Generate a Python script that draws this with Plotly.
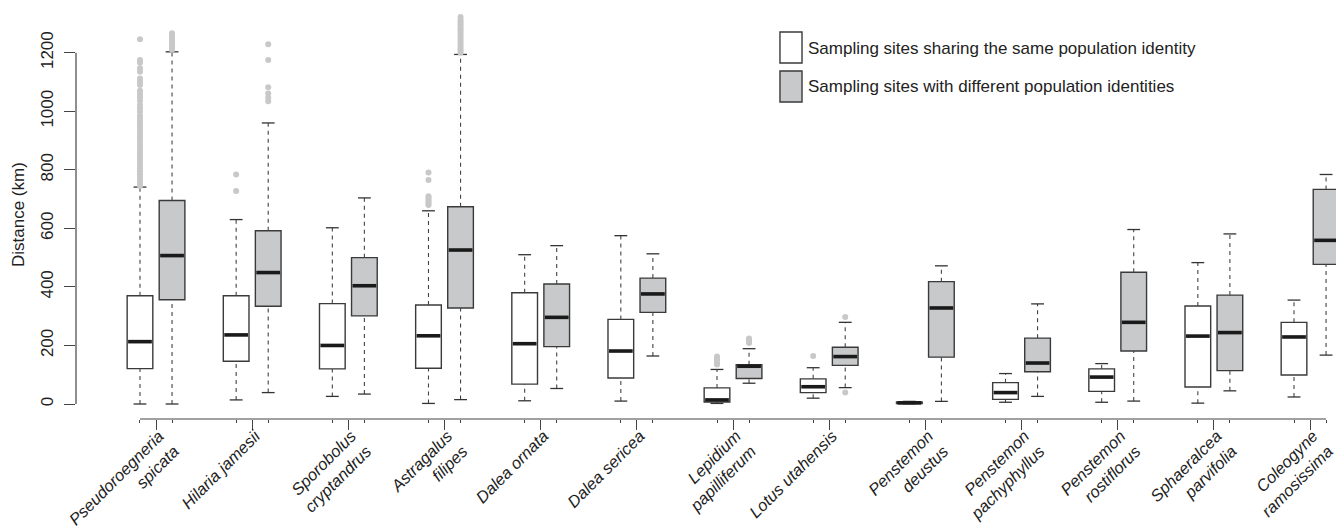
import plotly.graph_objects as go

species = ["Pseudoroegneria<br>spicata", "Hilaria jamesii", "Sporobolus<br>cryptandrus",
           "Astragalus<br>filipes", "Dalea ornata", "Dalea sericea", "Lepidium<br>papilliferum",
           "Lotus utahensis", "Penstemon<br>deustus", "Penstemon<br>pachyphyllus",
           "Penstemon<br>rostiflorus", "Sphaeralcea<br>parvifolia", "Coleogyne<br>ramosissima"]

# same population identity (white)
same_low = [0, 14, 26, 2, 11, 10, 2, 20, 1, 6, 6, 3, 24]
same_q1 = [121, 146, 120, 122, 68, 89, 7, 39, 2, 16, 43, 58, 99]
same_med = [213, 236, 200, 233, 206, 181, 14, 59, 4, 39, 92, 232, 229]
same_q3 = [370, 370, 343, 338, 380, 289, 55, 86, 7, 73, 120, 335, 279]
same_up = [741, 630, 602, 660, 510, 575, 118, 124, 9, 104, 138, 483, 355]

# different population identities (grey)
diff_low = [0, 39, 34, 15, 53, 164, 71, 56, 9, 26, 10, 45, 167]
diff_q1 = [356, 334, 301, 328, 196, 313, 87, 132, 160, 110, 181, 114, 477]
diff_med = [507, 449, 404, 526, 296, 376, 129, 162, 328, 140, 279, 244, 559]
diff_q3 = [695, 592, 500, 674, 410, 430, 134, 194, 418, 225, 450, 372, 733]
diff_up = [1203, 960, 704, 1194, 541, 513, 189, 279, 472, 342, 596, 581, 784]

# outliers (group index, value)
same_out = {
    0: [745, 755, 765, 775, 785, 795, 805, 815, 825, 835, 845, 855, 865, 875, 885, 895,
        905, 915, 925, 935, 945, 955, 965, 975, 985, 998, 1010, 1021, 1036, 1048, 1059,
        1070, 1090, 1101, 1112, 1135, 1147, 1166, 1175, 1246],
    1: [728, 784],
    3: [680, 686, 692, 698, 704, 710, 765, 791],
    6: [135, 142, 150, 156, 162],
    7: [164],
}
diff_out = {
    0: [1210, 1218, 1226, 1234, 1242, 1250, 1258, 1266],
    1: [1034, 1046, 1061, 1082, 1175, 1229],
    3: [1200, 1208, 1216, 1224, 1232, 1240, 1248, 1256, 1264, 1272, 1280, 1288, 1296,
        1304, 1312, 1322],
    6: [208, 214, 220, 224],
    7: [39, 297],
}

OFF = 1 / 6
BW = 0.267
CAP = BW / 2
LINE = "#3a3a3a"
FILLS = ["#ffffff", "#c8c9cb"]
FONT = "Liberation Sans, Arial, sans-serif"

fig = go.Figure()

def add_series(low, q1, med, q3, up, outs, offset, fill):
    xs = [i + offset for i in range(len(q1))]
    # whiskers (dashed)
    wx, wy = [], []
    for x, a, b, c, d in zip(xs, low, q1, q3, up):
        wx += [x, x, None, x, x, None]
        wy += [a, b, None, c, d, None]
    fig.add_trace(go.Scatter(x=wx, y=wy, mode="lines", hoverinfo="skip",
                             line=dict(color="#444444", width=1.1, dash="4px,4px"),
                             showlegend=False))
    # staples
    sx, sy = [], []
    for x, a, d in zip(xs, low, up):
        sx += [x - CAP / 2, x + CAP / 2, None, x - CAP / 2, x + CAP / 2, None]
        sy += [a, a, None, d, d, None]
    fig.add_trace(go.Scatter(x=sx, y=sy, mode="lines", hoverinfo="skip",
                             line=dict(color="#333333", width=1.3), showlegend=False))
    # boxes
    fig.add_trace(go.Bar(x=xs, y=[c - b for b, c in zip(q1, q3)], base=q1, width=BW,
                         marker=dict(color=fill, line=dict(color=LINE, width=1.4)),
                         showlegend=False))
    # medians
    mx, my = [], []
    for x, m in zip(xs, med):
        mx += [x - BW / 2 + 0.01, x + BW / 2 - 0.01, None]
        my += [m, m, None]
    fig.add_trace(go.Scatter(x=mx, y=my, mode="lines", hoverinfo="skip",
                             line=dict(color="#1a1a1a", width=3.6), showlegend=False))
    # outliers
    ox, oy = [], []
    for g, vals in outs.items():
        ox += [g + offset] * len(vals)
        oy += vals
    fig.add_trace(go.Scatter(x=ox, y=oy, mode="markers", hoverinfo="skip",
                             marker=dict(color="#c8c8c8", size=6, line=dict(width=0)),
                             showlegend=False))

add_series(same_low, same_q1, same_med, same_q3, same_up, same_out, -OFF, FILLS[0])
add_series(diff_low, diff_q1, diff_med, diff_q3, diff_up, diff_out, OFF, FILLS[1])

groups = list(range(len(species)))
minor_pos = sorted([g - OFF for g in groups] + [g + OFF for g in groups])

H_PLOT = 419.0
def py(p):
    return 1 - p / H_PLOT

fig.update_layout(
    width=1336, height=528,
    margin=dict(l=76, r=0, t=0, b=528 - 419),
    paper_bgcolor="white", plot_bgcolor="white",
    barmode="overlay",
    font=dict(family=FONT, size=17, color="#222222"),
    xaxis=dict(range=[-0.832, 12.27], tickmode="array", tickvals=groups,
               ticktext=["<i>%s</i>" % s for s in species], tickangle=-45,
               ticks="outside", ticklen=10, tickcolor="#444444", tickwidth=1.2,
               ticklabelstandoff=-10, ticklabelshift=3, ticklabeloverflow="allow",
               showgrid=False, zeroline=False, showline=False, automargin=False,
               tickfont=dict(family=FONT, size=16.5, color="#222222"),
               minor=dict(tickmode="array", tickvals=minor_pos, ticks="outside",
                          ticklen=3, tickcolor="#444444", tickwidth=1.2, showgrid=False)),
    yaxis=dict(range=[-51.2, 1380], tickmode="array", tickvals=[0, 200, 400, 600, 800, 1000, 1200],
               ticks="outside", ticklen=11, tickcolor="#444444", tickwidth=1.2,
               ticklabelstandoff=4,
               tickangle=-90, showgrid=False, zeroline=False, showline=False, automargin=False,
               tickfont=dict(family=FONT, size=17, color="#222222")),
    shapes=[
        dict(type="line", xref="paper", yref="y", x0=0, x1=0, y0=0, y1=1200,
             line=dict(color="#444444", width=1.2)),
        dict(type="line", xref="x", yref="paper", x0=-OFF, x1=12 + OFF, y0=0, y1=0,
             line=dict(color="#444444", width=1.2)),
        dict(type="rect", xref="paper", yref="paper", x0=0.5587, x1=0.5762, y0=py(63), y1=py(32),
             fillcolor=FILLS[0], line=dict(color=LINE, width=1.4)),
        dict(type="rect", xref="paper", yref="paper", x0=0.5587, x1=0.5762, y0=py(102), y1=py(71),
             fillcolor=FILLS[1], line=dict(color=LINE, width=1.4)),
    ],
    annotations=[
        dict(text="Sampling sites sharing the same population identity", xref="paper", yref="paper",
             x=0.5794, y=py(48), xanchor="left", yanchor="middle", showarrow=False,
             font=dict(family=FONT, size=17, color="#222222")),
        dict(text="Sampling sites with different population identities", xref="paper", yref="paper",
             x=0.5794, y=py(87), xanchor="left", yanchor="middle", showarrow=False,
             font=dict(family=FONT, size=17, color="#222222")),
        dict(text="Distance (km)", xref="paper", yref="paper", x=-0.046, y=py(215),
             xanchor="center", yanchor="middle", textangle=-90, showarrow=False,
             font=dict(family=FONT, size=17, color="#222222")),
    ],
)

fig.write_html("out.html", config={"displayModeBar": False},
               post_script="document.body.style.margin='0';document.body.style.overflow='hidden';")
